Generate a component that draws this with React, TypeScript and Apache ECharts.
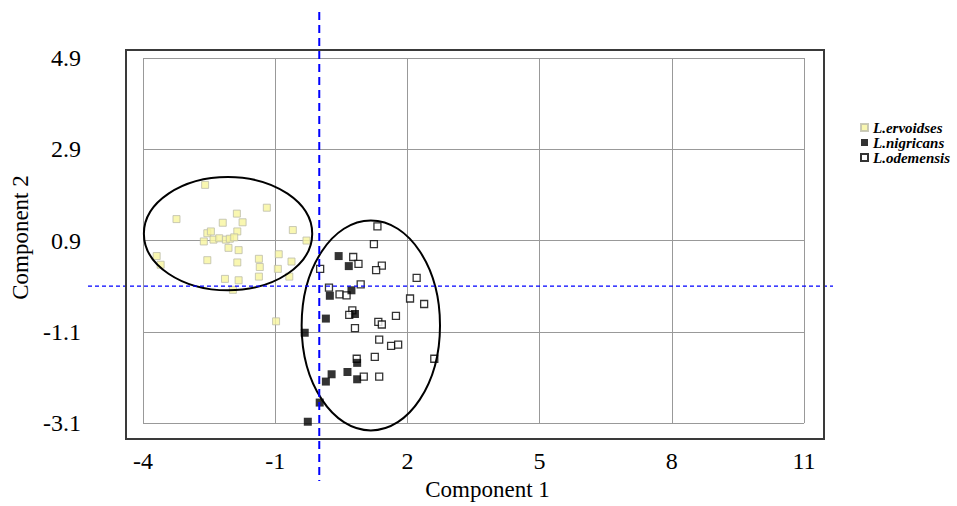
import React, { useEffect, useRef } from "react";
import * as echarts from "echarts";

const xTicks = [-4, -1, 2, 5, 8, 11];
const yTicks = [-3.1, -1.1, 0.9, 2.9, 4.9];
const seriesNames = ["L.ervoidses", "L.nigricans", "L.odemensis"];
const xTitle = "Component 1";
const yTitle = "Component 2";

const ervoidses: number[][] = [
  [-2.59, 2.12], [-1.19, 1.62], [-3.24, 1.37], [-1.87, 1.49], [-1.74, 1.3],
  [-2.19, 1.29], [-0.6, 1.13], [-2.54, 1.06], [-2.46, 1.1], [-1.86, 1.1],
  [-2.62, 0.88], [-2.4, 0.92], [-2.27, 0.95], [-2.12, 0.92], [-2.03, 0.94],
  [-1.93, 0.97], [-0.29, 0.9], [-2.06, 0.74], [-1.83, 0.69], [-3.69, 0.56],
  [-3.6, 0.37], [-2.54, 0.47], [-1.86, 0.42], [-1.37, 0.5], [-1.35, 0.32],
  [-0.92, 0.6], [-0.63, 0.44], [-0.94, 0.28], [-2.14, 0.06], [-1.83, 0.03],
  [-1.37, 0.11], [-0.68, 0.11], [-1.96, -0.18], [-0.98, -0.87],
];

const nigricans: number[][] = [
  [0.44, 0.56], [0.67, 0.34], [0.73, -0.19], [0.24, -0.31], [0.15, -0.81],
  [0.81, -0.71], [-0.33, -1.12], [0.86, -1.78], [0.64, -1.98], [0.28, -2.03],
  [0.15, -2.19], [0.86, -2.14], [0.01, -2.65], [-0.26, -3.07],
];

const odemensis: number[][] = [
  [1.32, 1.21], [1.24, 0.82], [0.77, 0.54], [0.89, 0.39], [1.42, 0.35],
  [1.29, 0.25], [0.02, 0.28], [2.21, 0.08], [0.94, -0.06], [0.22, -0.13],
  [0.46, -0.28], [0.62, -0.3], [2.06, -0.37], [2.38, -0.49], [0.75, -0.63],
  [0.68, -0.73], [1.74, -0.75], [1.34, -0.88], [1.42, -0.94], [0.81, -1.02],
  [1.36, -1.27], [1.63, -1.41], [1.79, -1.38], [1.26, -1.65], [0.85, -1.69],
  [2.61, -1.69], [1.01, -2.08], [1.36, -2.08],
];

// [centerX, centerY, radiusX, radiusY]
const ellipses: number[][] = [
  [-2.07, 1.05, 1.91, 1.24],
  [1.17, -0.96, 1.57, 2.3],
];

// [x reference, y reference]
const refLines: number[][] = [[0, -0.1]];

const FONT = "'Liberation Serif', 'Times New Roman', serif";

export default function App() {
  const ref = useRef<HTMLDivElement>(null);
  useEffect(() => {
    if (!ref.current) return;
    const chart = echarts.init(ref.current, null, { renderer: "svg" });
    const fmt = (v: number) => {
      const r = Math.round(v * 10) / 10;
      return Number.isInteger(r) ? String(r) : r.toFixed(1);
    };
    const baseX = {
      type: "value",
      min: xTicks[0],
      max: xTicks[xTicks.length - 1],
      interval: xTicks[1] - xTicks[0],
    };
    const baseY = {
      type: "value",
      min: yTicks[0],
      max: yTicks[yTicks.length - 1],
      interval: yTicks[1] - yTicks[0],
    };
    const option: any = {
      animation: false,
      backgroundColor: "#ffffff",
      grid: { left: 143, right: 153, top: 58, bottom: 79, containLabel: false },
      legend: {
        orient: "vertical",
        left: 855,
        top: 115,
        itemWidth: 7,
        itemHeight: 7,
        itemGap: 0,
        icon: "rect",
        data: seriesNames,
        textStyle: {
          fontFamily: FONT,
          fontStyle: "italic",
          fontWeight: "bold",
          fontSize: 15,
          lineHeight: 14,
          color: "#000",
        },
      },
      xAxis: [
        {
          ...baseX,
          position: "bottom",
          name: xTitle,
          nameLocation: "middle",
          nameGap: 52,
          nameTextStyle: { fontFamily: FONT, fontSize: 23, color: "#000", padding: [0, 0, 0, 28] },
          axisLine: { show: false },
          axisTick: { show: true, inside: false, length: 6, lineStyle: { color: "#999", width: 1 } },
          axisLabel: { fontFamily: FONT, fontSize: 24, color: "#000", margin: 26, formatter: fmt },
          splitLine: { show: true, lineStyle: { color: "#999", width: 1 } },
        },
        {
          ...baseX,
          position: "top",
          axisLine: { show: false },
          axisTick: { show: true, inside: false, length: 6, lineStyle: { color: "#999", width: 1 } },
          axisLabel: { show: false },
          splitLine: { show: false },
        },
      ],
      yAxis: [
        {
          ...baseY,
          position: "left",
          name: yTitle,
          nameLocation: "middle",
          nameGap: 109,
          nameTextStyle: { fontFamily: FONT, fontSize: 23, color: "#000", padding: [0, 0, 0, 6] },
          axisLine: { show: false },
          axisTick: { show: true, inside: false, length: 7, lineStyle: { color: "#999", width: 1 } },
          axisLabel: { fontFamily: FONT, fontSize: 24, color: "#000", margin: 62, formatter: fmt },
          splitLine: { show: true, lineStyle: { color: "#999", width: 1 } },
        },
        {
          ...baseY,
          position: "right",
          axisLine: { show: false },
          axisTick: { show: true, inside: false, length: 6, lineStyle: { color: "#999", width: 1 } },
          axisLabel: { show: false },
          splitLine: { show: false },
        },
      ],
      graphic: [
        {
          type: "rect",
          shape: { x: 126, y: 50, width: 698, height: 389 },
          style: { fill: "none", stroke: "#3a3a3a", lineWidth: 2 },
          z: 10,
          silent: true,
        },
      ],
      series: [
        {
          name: seriesNames[0],
          type: "scatter",
          symbol: "rect",
          symbolSize: 7,
          clip: false,
          z: 2,
          itemStyle: { color: "#f7f59e", borderColor: "#bdbdaa", borderWidth: 1 },
          data: ervoidses,
        },
        {
          name: seriesNames[2],
          type: "scatter",
          symbol: "rect",
          symbolSize: 7,
          clip: false,
          z: 3,
          itemStyle: { color: "#ffffff", borderColor: "#000000", borderWidth: 1.3 },
          data: odemensis,
        },
        {
          name: seriesNames[1],
          type: "scatter",
          symbol: "rect",
          symbolSize: 8,
          clip: false,
          z: 4,
          itemStyle: { color: "#000000", borderColor: "#000000", borderWidth: 0 },
          data: nigricans,
        },
        {
          type: "custom",
          silent: true,
          z: 5,
          clip: false,
          encode: { x: 0, y: 1 },
          data: ellipses,
          renderItem: (params: any, api: any) => {
            const c = api.coord([api.value(0), api.value(1)]);
            const s = api.size([api.value(2), api.value(3)]);
            return {
              type: "ellipse",
              shape: { cx: c[0], cy: c[1], rx: s[0], ry: s[1] },
              style: { fill: "none", stroke: "#000", lineWidth: 2 },
            };
          },
        },
        {
          type: "custom",
          silent: true,
          z: 6,
          clip: false,
          encode: { x: 0, y: 1 },
          data: refLines,
          renderItem: (params: any, api: any) => {
            const p = api.coord([api.value(0), api.value(1)]);
            const cs = params.coordSys;
            return {
              type: "group",
              children: [
                {
                  type: "line",
                  shape: { x1: p[0], y1: cs.y - 46, x2: p[0], y2: cs.y + cs.height + 58 },
                  style: { stroke: "#0000ff", lineWidth: 2, lineDash: [8, 5] },
                },
                {
                  type: "line",
                  shape: { x1: cs.x - 55, y1: p[1], x2: cs.x + cs.width + 29, y2: p[1] },
                  style: { stroke: "#0000ff", lineWidth: 1.2, lineDash: [4, 3] },
                },
              ],
            };
          },
        },
      ],
    };
    chart.setOption(option);
    return () => chart.dispose();
  }, []);
  return <div ref={ref} style={{ width: 957, height: 506, position: "absolute", left: 0, top: 0 }} />;
}
